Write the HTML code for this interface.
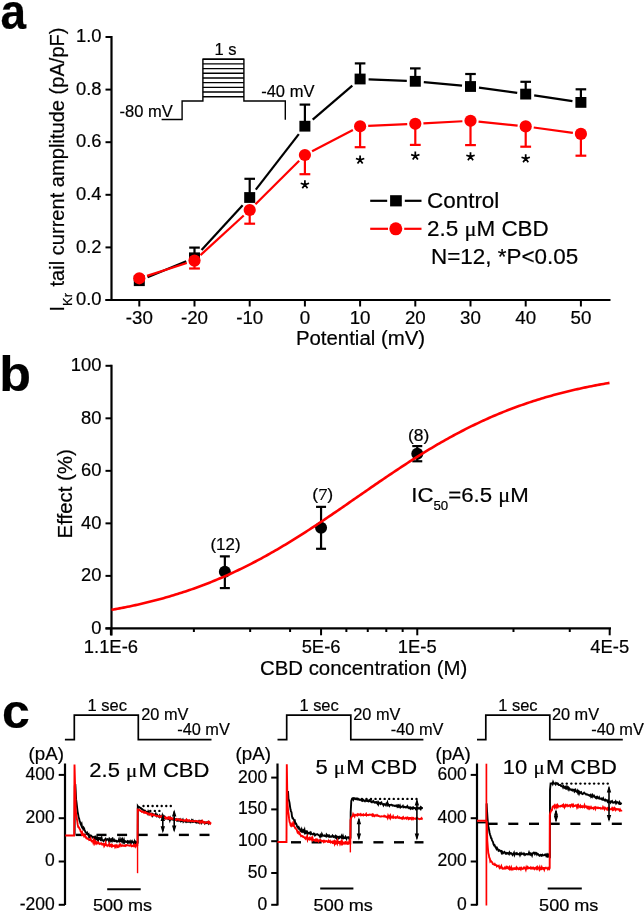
<!DOCTYPE html>
<html><head><meta charset="utf-8"><style>
html,body{margin:0;padding:0;background:#fff;width:644px;height:914px;overflow:hidden}
svg{display:block;will-change:transform}
text{font-family:"Liberation Sans",sans-serif;stroke:#000;stroke-width:0.2px}
</style></head><body>
<svg width="644" height="914" viewBox="0 0 644 914" style='font-family:"Liberation Sans",sans-serif'>
<rect width="644" height="914" fill="#fff"/>
<text x="0" y="0" transform="translate(0.60,29.10) scale(0.92,1)" font-size="50" text-anchor="start" font-weight="bold" fill="#000" >a</text>
<line x1="111.50" y1="36.00" x2="111.50" y2="301.00" stroke="#000" stroke-width="2.2" />
<line x1="105.50" y1="300.00" x2="610.50" y2="300.00" stroke="#000" stroke-width="2.2" />
<line x1="105.50" y1="300.00" x2="111.50" y2="300.00" stroke="#000" stroke-width="2" />
<text x="0" y="0" transform="translate(101.50,305.20) scale(1.02,1)" font-size="18" text-anchor="end" font-weight="normal" fill="#000" >0.0</text>
<line x1="105.50" y1="247.40" x2="111.50" y2="247.40" stroke="#000" stroke-width="2" />
<text x="0" y="0" transform="translate(101.50,252.60) scale(1.02,1)" font-size="18" text-anchor="end" font-weight="normal" fill="#000" >0.2</text>
<line x1="105.50" y1="194.80" x2="111.50" y2="194.80" stroke="#000" stroke-width="2" />
<text x="0" y="0" transform="translate(101.50,200.00) scale(1.02,1)" font-size="18" text-anchor="end" font-weight="normal" fill="#000" >0.4</text>
<line x1="105.50" y1="142.20" x2="111.50" y2="142.20" stroke="#000" stroke-width="2" />
<text x="0" y="0" transform="translate(101.50,147.40) scale(1.02,1)" font-size="18" text-anchor="end" font-weight="normal" fill="#000" >0.6</text>
<line x1="105.50" y1="89.60" x2="111.50" y2="89.60" stroke="#000" stroke-width="2" />
<text x="0" y="0" transform="translate(101.50,94.80) scale(1.02,1)" font-size="18" text-anchor="end" font-weight="normal" fill="#000" >0.8</text>
<line x1="105.50" y1="37.00" x2="111.50" y2="37.00" stroke="#000" stroke-width="2" />
<text x="0" y="0" transform="translate(101.50,42.20) scale(1.02,1)" font-size="18" text-anchor="end" font-weight="normal" fill="#000" >1.0</text>
<line x1="139.30" y1="300.00" x2="139.30" y2="306.50" stroke="#000" stroke-width="2" />
<text x="0" y="0" transform="translate(139.30,324.20) scale(1.04,1)" font-size="18" text-anchor="middle" font-weight="normal" fill="#000" >-30</text>
<line x1="194.50" y1="300.00" x2="194.50" y2="306.50" stroke="#000" stroke-width="2" />
<text x="0" y="0" transform="translate(194.50,324.20) scale(1.04,1)" font-size="18" text-anchor="middle" font-weight="normal" fill="#000" >-20</text>
<line x1="249.70" y1="300.00" x2="249.70" y2="306.50" stroke="#000" stroke-width="2" />
<text x="0" y="0" transform="translate(249.70,324.20) scale(1.04,1)" font-size="18" text-anchor="middle" font-weight="normal" fill="#000" >-10</text>
<line x1="304.90" y1="300.00" x2="304.90" y2="306.50" stroke="#000" stroke-width="2" />
<text x="0" y="0" transform="translate(304.90,324.20) scale(1.04,1)" font-size="18" text-anchor="middle" font-weight="normal" fill="#000" >0</text>
<line x1="360.10" y1="300.00" x2="360.10" y2="306.50" stroke="#000" stroke-width="2" />
<text x="0" y="0" transform="translate(360.10,324.20) scale(1.04,1)" font-size="18" text-anchor="middle" font-weight="normal" fill="#000" >10</text>
<line x1="415.30" y1="300.00" x2="415.30" y2="306.50" stroke="#000" stroke-width="2" />
<text x="0" y="0" transform="translate(415.30,324.20) scale(1.04,1)" font-size="18" text-anchor="middle" font-weight="normal" fill="#000" >20</text>
<line x1="470.50" y1="300.00" x2="470.50" y2="306.50" stroke="#000" stroke-width="2" />
<text x="0" y="0" transform="translate(470.50,324.20) scale(1.04,1)" font-size="18" text-anchor="middle" font-weight="normal" fill="#000" >30</text>
<line x1="525.70" y1="300.00" x2="525.70" y2="306.50" stroke="#000" stroke-width="2" />
<text x="0" y="0" transform="translate(525.70,324.20) scale(1.04,1)" font-size="18" text-anchor="middle" font-weight="normal" fill="#000" >40</text>
<line x1="580.90" y1="300.00" x2="580.90" y2="306.50" stroke="#000" stroke-width="2" />
<text x="0" y="0" transform="translate(580.90,324.20) scale(1.04,1)" font-size="18" text-anchor="middle" font-weight="normal" fill="#000" >50</text>
<text x="0" y="0" transform="translate(360.50,344.70) scale(1.02,1)" font-size="20" text-anchor="middle" font-weight="normal" fill="#000" >Potential (mV)</text>
<g transform="translate(63.7,309.7) rotate(-90)"><text x="-1.8" y="0" font-size="20.1" fill="#000">I<tspan font-size="13" dy="8.2">Kr</tspan><tspan dy="-8.2" dx="0.8"> tail current amplitude (pA/pF)</tspan></text></g>
<polyline points="161.60,119.50 182.10,119.50 182.10,101.00 202.90,101.00 202.90,59.20 243.90,59.20 243.90,101.00 285.30,101.00 285.30,119.70" fill="none" stroke="#000" stroke-width="1.4" stroke-linejoin="miter" />
<line x1="202.90" y1="59.20" x2="243.90" y2="59.20" stroke="#000" stroke-width="1.4" />
<line x1="202.90" y1="63.89" x2="243.90" y2="63.89" stroke="#000" stroke-width="1.4" />
<line x1="202.90" y1="68.58" x2="243.90" y2="68.58" stroke="#000" stroke-width="1.4" />
<line x1="202.90" y1="73.27" x2="243.90" y2="73.27" stroke="#000" stroke-width="1.4" />
<line x1="202.90" y1="77.96" x2="243.90" y2="77.96" stroke="#000" stroke-width="1.4" />
<line x1="202.90" y1="82.65" x2="243.90" y2="82.65" stroke="#000" stroke-width="1.4" />
<line x1="202.90" y1="87.34" x2="243.90" y2="87.34" stroke="#000" stroke-width="1.4" />
<line x1="202.90" y1="92.03" x2="243.90" y2="92.03" stroke="#000" stroke-width="1.4" />
<line x1="202.90" y1="96.72" x2="243.90" y2="96.72" stroke="#000" stroke-width="1.4" />
<text x="0" y="0" transform="translate(214.60,54.80) scale(1.0,1)" font-size="16.5" text-anchor="start" font-weight="normal" fill="#000" >1 s</text>
<text x="0" y="0" transform="translate(119.50,116.70) scale(1.0,1)" font-size="16.5" text-anchor="start" font-weight="normal" fill="#000" >-80 mV</text>
<text x="0" y="0" transform="translate(261.20,97.00) scale(1.0,1)" font-size="16.5" text-anchor="start" font-weight="normal" fill="#000" >-40 mV</text>
<line x1="147.57" y1="277.27" x2="186.23" y2="261.23" stroke="#000" stroke-width="2.2" />
<line x1="201.56" y1="250.09" x2="242.64" y2="205.21" stroke="#000" stroke-width="2.2" />
<line x1="255.79" y1="189.63" x2="298.81" y2="134.07" stroke="#000" stroke-width="2.2" />
<line x1="312.68" y1="119.55" x2="352.32" y2="85.65" stroke="#000" stroke-width="2.2" />
<line x1="368.60" y1="79.35" x2="406.80" y2="80.95" stroke="#000" stroke-width="2.2" />
<line x1="423.79" y1="82.10" x2="462.01" y2="85.70" stroke="#000" stroke-width="2.2" />
<line x1="478.97" y1="87.67" x2="517.23" y2="92.93" stroke="#000" stroke-width="2.2" />
<line x1="534.17" y1="95.37" x2="572.43" y2="101.13" stroke="#000" stroke-width="2.2" />
<line x1="194.50" y1="257.80" x2="194.50" y2="247.60" stroke="#000" stroke-width="2.2" />
<line x1="189.20" y1="247.60" x2="199.80" y2="247.60" stroke="#000" stroke-width="2.2" />
<line x1="249.70" y1="197.50" x2="249.70" y2="178.80" stroke="#000" stroke-width="2.2" />
<line x1="244.40" y1="178.80" x2="255.00" y2="178.80" stroke="#000" stroke-width="2.2" />
<line x1="304.90" y1="126.20" x2="304.90" y2="104.60" stroke="#000" stroke-width="2.2" />
<line x1="299.60" y1="104.60" x2="310.20" y2="104.60" stroke="#000" stroke-width="2.2" />
<line x1="360.10" y1="79.00" x2="360.10" y2="63.40" stroke="#000" stroke-width="2.2" />
<line x1="354.80" y1="63.40" x2="365.40" y2="63.40" stroke="#000" stroke-width="2.2" />
<line x1="415.30" y1="81.30" x2="415.30" y2="68.40" stroke="#000" stroke-width="2.2" />
<line x1="410.00" y1="68.40" x2="420.60" y2="68.40" stroke="#000" stroke-width="2.2" />
<line x1="470.50" y1="86.50" x2="470.50" y2="74.00" stroke="#000" stroke-width="2.2" />
<line x1="465.20" y1="74.00" x2="475.80" y2="74.00" stroke="#000" stroke-width="2.2" />
<line x1="525.70" y1="94.10" x2="525.70" y2="81.80" stroke="#000" stroke-width="2.2" />
<line x1="520.40" y1="81.80" x2="531.00" y2="81.80" stroke="#000" stroke-width="2.2" />
<line x1="580.90" y1="102.40" x2="580.90" y2="89.30" stroke="#000" stroke-width="2.2" />
<line x1="575.60" y1="89.30" x2="586.20" y2="89.30" stroke="#000" stroke-width="2.2" />
<rect x="133.80" y="275.30" width="11" height="10.8" fill="#000"/>
<rect x="189.00" y="252.40" width="11" height="10.8" fill="#000"/>
<rect x="244.20" y="192.10" width="11" height="10.8" fill="#000"/>
<rect x="299.40" y="120.80" width="11" height="10.8" fill="#000"/>
<rect x="354.60" y="73.60" width="11" height="10.8" fill="#000"/>
<rect x="409.80" y="75.90" width="11" height="10.8" fill="#000"/>
<rect x="465.00" y="81.10" width="11" height="10.8" fill="#000"/>
<rect x="520.20" y="88.70" width="11" height="10.8" fill="#000"/>
<rect x="575.40" y="97.00" width="11" height="10.8" fill="#000"/>
<line x1="147.01" y1="275.83" x2="186.79" y2="263.07" stroke="#f00" stroke-width="2.2" />
<line x1="200.47" y1="255.13" x2="243.73" y2="215.47" stroke="#f00" stroke-width="2.2" />
<line x1="255.44" y1="204.28" x2="299.16" y2="160.72" stroke="#f00" stroke-width="2.2" />
<line x1="312.09" y1="151.26" x2="352.91" y2="130.04" stroke="#f00" stroke-width="2.2" />
<line x1="368.19" y1="125.93" x2="407.21" y2="124.17" stroke="#f00" stroke-width="2.2" />
<line x1="423.39" y1="123.36" x2="462.41" y2="121.24" stroke="#f00" stroke-width="2.2" />
<line x1="478.56" y1="121.62" x2="517.64" y2="125.58" stroke="#f00" stroke-width="2.2" />
<line x1="533.73" y1="127.49" x2="572.87" y2="132.81" stroke="#f00" stroke-width="2.2" />
<line x1="194.50" y1="260.60" x2="194.50" y2="268.50" stroke="#f00" stroke-width="2.2" />
<line x1="189.10" y1="268.50" x2="199.90" y2="268.50" stroke="#f00" stroke-width="2.2" />
<line x1="249.70" y1="210.00" x2="249.70" y2="223.70" stroke="#f00" stroke-width="2.2" />
<line x1="244.30" y1="223.70" x2="255.10" y2="223.70" stroke="#f00" stroke-width="2.2" />
<line x1="304.90" y1="155.00" x2="304.90" y2="174.20" stroke="#f00" stroke-width="2.2" />
<line x1="299.50" y1="174.20" x2="310.30" y2="174.20" stroke="#f00" stroke-width="2.2" />
<line x1="360.10" y1="126.30" x2="360.10" y2="147.20" stroke="#f00" stroke-width="2.2" />
<line x1="354.70" y1="147.20" x2="365.50" y2="147.20" stroke="#f00" stroke-width="2.2" />
<line x1="415.30" y1="123.80" x2="415.30" y2="144.90" stroke="#f00" stroke-width="2.2" />
<line x1="409.90" y1="144.90" x2="420.70" y2="144.90" stroke="#f00" stroke-width="2.2" />
<line x1="470.50" y1="120.80" x2="470.50" y2="145.10" stroke="#f00" stroke-width="2.2" />
<line x1="465.10" y1="145.10" x2="475.90" y2="145.10" stroke="#f00" stroke-width="2.2" />
<line x1="525.70" y1="126.40" x2="525.70" y2="146.70" stroke="#f00" stroke-width="2.2" />
<line x1="520.30" y1="146.70" x2="531.10" y2="146.70" stroke="#f00" stroke-width="2.2" />
<line x1="580.90" y1="133.90" x2="580.90" y2="155.70" stroke="#f00" stroke-width="2.2" />
<line x1="575.50" y1="155.70" x2="586.30" y2="155.70" stroke="#f00" stroke-width="2.2" />
<circle cx="139.30" cy="278.30" r="6.1" fill="#f00"/>
<circle cx="194.50" cy="260.60" r="6.1" fill="#f00"/>
<circle cx="249.70" cy="210.00" r="6.1" fill="#f00"/>
<circle cx="304.90" cy="155.00" r="6.1" fill="#f00"/>
<circle cx="360.10" cy="126.30" r="6.1" fill="#f00"/>
<circle cx="415.30" cy="123.80" r="6.1" fill="#f00"/>
<circle cx="470.50" cy="120.80" r="6.1" fill="#f00"/>
<circle cx="525.70" cy="126.40" r="6.1" fill="#f00"/>
<circle cx="580.90" cy="133.90" r="6.1" fill="#f00"/>
<path d="M304.90,184.60 L304.90,180.20 M304.90,184.60 L309.08,183.24 M304.90,184.60 L307.49,188.16 M304.90,184.60 L302.31,188.16 M304.90,184.60 L300.72,183.24 " stroke="#000" stroke-width="1.75" stroke-linecap="butt" fill="none"/>
<path d="M360.10,159.90 L360.10,155.50 M360.10,159.90 L364.28,158.54 M360.10,159.90 L362.69,163.46 M360.10,159.90 L357.51,163.46 M360.10,159.90 L355.92,158.54 " stroke="#000" stroke-width="1.75" stroke-linecap="butt" fill="none"/>
<path d="M415.30,156.00 L415.30,151.60 M415.30,156.00 L419.48,154.64 M415.30,156.00 L417.89,159.56 M415.30,156.00 L412.71,159.56 M415.30,156.00 L411.12,154.64 " stroke="#000" stroke-width="1.75" stroke-linecap="butt" fill="none"/>
<path d="M470.50,156.60 L470.50,152.20 M470.50,156.60 L474.68,155.24 M470.50,156.60 L473.09,160.16 M470.50,156.60 L467.91,160.16 M470.50,156.60 L466.32,155.24 " stroke="#000" stroke-width="1.75" stroke-linecap="butt" fill="none"/>
<path d="M525.70,158.60 L525.70,154.20 M525.70,158.60 L529.88,157.24 M525.70,158.60 L528.29,162.16 M525.70,158.60 L523.11,162.16 M525.70,158.60 L521.52,157.24 " stroke="#000" stroke-width="1.75" stroke-linecap="butt" fill="none"/>
<line x1="370.20" y1="200.80" x2="387.20" y2="200.80" stroke="#000" stroke-width="2.2" />
<line x1="404.80" y1="200.80" x2="421.50" y2="200.80" stroke="#000" stroke-width="2.2" />
<rect x="390.1" y="195.2" width="11.7" height="11.2" fill="#000"/>
<text x="0" y="0" transform="translate(427.00,208.20) scale(1.02,1)" font-size="22" text-anchor="start" font-weight="normal" fill="#000" >Control</text>
<line x1="370.20" y1="228.80" x2="388.00" y2="228.80" stroke="#f00" stroke-width="2.2" />
<line x1="404.20" y1="228.80" x2="421.50" y2="228.80" stroke="#f00" stroke-width="2.2" />
<circle cx="395.8" cy="228.8" r="6.5" fill="#f00"/>
<text x="0" y="0" transform="translate(427.00,236.20) scale(1.02,1)" font-size="22" text-anchor="start" font-weight="normal" fill="#000" >2.5 <tspan font-family="Liberation Serif">&#956;</tspan>M CBD</text>
<text x="0" y="0" transform="translate(431.00,264.00) scale(1.02,1)" font-size="22" text-anchor="start" font-weight="normal" fill="#000" >N=12, *P&lt;0.05</text>
<text x="0" y="0" transform="translate(-0.80,391.30) scale(1.03,1)" font-size="50.5" text-anchor="start" font-weight="bold" fill="#000" >b</text>
<line x1="111.50" y1="364.80" x2="111.50" y2="635.50" stroke="#000" stroke-width="2.2" />
<line x1="105.50" y1="628.40" x2="611.00" y2="628.40" stroke="#000" stroke-width="2.2" />
<line x1="105.50" y1="628.40" x2="111.50" y2="628.40" stroke="#000" stroke-width="2" />
<text x="0" y="0" transform="translate(101.50,633.60) scale(1.02,1)" font-size="18" text-anchor="end" font-weight="normal" fill="#000" >0</text>
<line x1="105.50" y1="575.88" x2="111.50" y2="575.88" stroke="#000" stroke-width="2" />
<text x="0" y="0" transform="translate(101.50,581.08) scale(1.02,1)" font-size="18" text-anchor="end" font-weight="normal" fill="#000" >20</text>
<line x1="105.50" y1="523.36" x2="111.50" y2="523.36" stroke="#000" stroke-width="2" />
<text x="0" y="0" transform="translate(101.50,528.56) scale(1.02,1)" font-size="18" text-anchor="end" font-weight="normal" fill="#000" >40</text>
<line x1="105.50" y1="470.84" x2="111.50" y2="470.84" stroke="#000" stroke-width="2" />
<text x="0" y="0" transform="translate(101.50,476.04) scale(1.02,1)" font-size="18" text-anchor="end" font-weight="normal" fill="#000" >60</text>
<line x1="105.50" y1="418.32" x2="111.50" y2="418.32" stroke="#000" stroke-width="2" />
<text x="0" y="0" transform="translate(101.50,423.52) scale(1.02,1)" font-size="18" text-anchor="end" font-weight="normal" fill="#000" >80</text>
<line x1="105.50" y1="365.80" x2="111.50" y2="365.80" stroke="#000" stroke-width="2" />
<text x="0" y="0" transform="translate(101.50,371.00) scale(1.02,1)" font-size="18" text-anchor="end" font-weight="normal" fill="#000" >100</text>
<line x1="110.90" y1="628.40" x2="110.90" y2="635.30" stroke="#000" stroke-width="2" />
<text x="0" y="0" transform="translate(110.90,652.80) scale(1.0,1)" font-size="18.4" text-anchor="middle" font-weight="normal" fill="#000" >1.1E-6</text>
<line x1="321.06" y1="628.40" x2="321.06" y2="635.30" stroke="#000" stroke-width="2" />
<text x="0" y="0" transform="translate(321.06,652.80) scale(1.0,1)" font-size="18.4" text-anchor="middle" font-weight="normal" fill="#000" >5E-6</text>
<line x1="417.27" y1="628.40" x2="417.27" y2="635.30" stroke="#000" stroke-width="2" />
<text x="0" y="0" transform="translate(417.27,652.80) scale(1.0,1)" font-size="18.4" text-anchor="middle" font-weight="normal" fill="#000" >1E-5</text>
<line x1="609.69" y1="628.40" x2="609.69" y2="635.30" stroke="#000" stroke-width="2" />
<text x="0" y="0" transform="translate(609.69,652.80) scale(1.0,1)" font-size="18.4" text-anchor="middle" font-weight="normal" fill="#000" >4E-5</text>
<line x1="193.88" y1="628.40" x2="193.88" y2="632.00" stroke="#000" stroke-width="2" />
<line x1="250.16" y1="628.40" x2="250.16" y2="632.00" stroke="#000" stroke-width="2" />
<line x1="290.09" y1="628.40" x2="290.09" y2="632.00" stroke="#000" stroke-width="2" />
<line x1="346.37" y1="628.40" x2="346.37" y2="632.00" stroke="#000" stroke-width="2" />
<line x1="367.76" y1="628.40" x2="367.76" y2="632.00" stroke="#000" stroke-width="2" />
<line x1="386.30" y1="628.40" x2="386.30" y2="632.00" stroke="#000" stroke-width="2" />
<line x1="402.65" y1="628.40" x2="402.65" y2="632.00" stroke="#000" stroke-width="2" />
<line x1="513.48" y1="628.40" x2="513.48" y2="632.00" stroke="#000" stroke-width="2" />
<line x1="569.76" y1="628.40" x2="569.76" y2="632.00" stroke="#000" stroke-width="2" />
<text x="0" y="0" transform="translate(363.60,675.00) scale(1.02,1)" font-size="20" text-anchor="middle" font-weight="normal" fill="#000" >CBD concentration (M)</text>
<g transform="translate(72.0,536.8) rotate(-90)"><text x="-1.6" y="0" font-size="20" fill="#000" transform="scale(1.02,1)">Effect (%)</text></g>
<line x1="224.85" y1="556.37" x2="224.85" y2="588.08" stroke="#000" stroke-width="2.2" />
<line x1="219.85" y1="556.37" x2="229.85" y2="556.37" stroke="#000" stroke-width="2.2" />
<line x1="219.85" y1="588.08" x2="229.85" y2="588.08" stroke="#000" stroke-width="2.2" />
<circle cx="224.85" cy="571.83" r="6" fill="#000"/>
<line x1="321.06" y1="506.86" x2="321.06" y2="548.78" stroke="#000" stroke-width="2.2" />
<line x1="316.06" y1="506.86" x2="326.06" y2="506.86" stroke="#000" stroke-width="2.2" />
<line x1="316.06" y1="548.78" x2="326.06" y2="548.78" stroke="#000" stroke-width="2.2" />
<circle cx="321.06" cy="527.82" r="6" fill="#000"/>
<line x1="417.27" y1="446.07" x2="417.27" y2="461.27" stroke="#000" stroke-width="2.2" />
<line x1="412.27" y1="446.07" x2="422.27" y2="446.07" stroke="#000" stroke-width="2.2" />
<line x1="412.27" y1="461.27" x2="422.27" y2="461.27" stroke="#000" stroke-width="2.2" />
<circle cx="417.27" cy="453.67" r="6" fill="#000"/>
<text x="0" y="0" transform="translate(225.50,549.60) scale(1.04,1)" font-size="16.3" text-anchor="middle" font-weight="normal" fill="#000" >(12)</text>
<text x="0" y="0" transform="translate(418.70,440.70) scale(1.07,1)" font-size="16.3" text-anchor="middle" font-weight="normal" fill="#000" >(8)</text>
<text x="0" y="0" transform="translate(322.75,499.90) scale(1.08,1)" font-size="16.4" text-anchor="middle" font-weight="normal" fill="#000" >(<tspan font-family="Liberation Serif" font-size="17">7</tspan>)</text>
<polyline points="111.50,609.87 113.50,609.51 115.50,609.15 117.50,608.77 119.50,608.40 121.50,608.01 123.50,607.62 125.50,607.22 127.50,606.81 129.50,606.40 131.50,605.97 133.50,605.54 135.50,605.11 137.50,604.66 139.50,604.21 141.50,603.75 143.50,603.28 145.50,602.81 147.50,602.32 149.50,601.83 151.50,601.33 153.50,600.82 155.50,600.30 157.50,599.77 159.50,599.23 161.50,598.69 163.50,598.13 165.50,597.57 167.50,597.00 169.50,596.42 171.50,595.82 173.50,595.22 175.50,594.61 177.50,593.99 179.50,593.36 181.50,592.72 183.50,592.07 185.50,591.41 187.50,590.74 189.50,590.06 191.50,589.37 193.50,588.67 195.50,587.96 197.50,587.23 199.50,586.50 201.50,585.76 203.50,585.00 205.50,584.24 207.50,583.46 209.50,582.67 211.50,581.88 213.50,581.07 215.50,580.25 217.50,579.42 219.50,578.57 221.50,577.72 223.50,576.85 225.50,575.98 227.50,575.09 229.50,574.19 231.50,573.28 233.50,572.36 235.50,571.43 237.50,570.48 239.50,569.53 241.50,568.56 243.50,567.58 245.50,566.60 247.50,565.59 249.50,564.58 251.50,563.56 253.50,562.53 255.50,561.48 257.50,560.43 259.50,559.36 261.50,558.28 263.50,557.19 265.50,556.10 267.50,554.99 269.50,553.87 271.50,552.74 273.50,551.60 275.50,550.45 277.50,549.29 279.50,548.11 281.50,546.93 283.50,545.74 285.50,544.55 287.50,543.34 289.50,542.12 291.50,540.89 293.50,539.66 295.50,538.41 297.50,537.16 299.50,535.90 301.50,534.63 303.50,533.36 305.50,532.07 307.50,530.78 309.50,529.48 311.50,528.18 313.50,526.87 315.50,525.55 317.50,524.23 319.50,522.90 321.50,521.56 323.50,520.22 325.50,518.87 327.50,517.52 329.50,516.17 331.50,514.81 333.50,513.44 335.50,512.08 337.50,510.71 339.50,509.33 341.50,507.96 343.50,506.58 345.50,505.20 347.50,503.82 349.50,502.43 351.50,501.05 353.50,499.66 355.50,498.27 357.50,496.88 359.50,495.50 361.50,494.11 363.50,492.72 365.50,491.34 367.50,489.95 369.50,488.57 371.50,487.19 373.50,485.81 375.50,484.44 377.50,483.06 379.50,481.69 381.50,480.33 383.50,478.96 385.50,477.60 387.50,476.25 389.50,474.90 391.50,473.55 393.50,472.21 395.50,470.88 397.50,469.55 399.50,468.22 401.50,466.90 403.50,465.59 405.50,464.29 407.50,462.99 409.50,461.70 411.50,460.42 413.50,459.14 415.50,457.87 417.50,456.61 419.50,455.36 421.50,454.12 423.50,452.88 425.50,451.65 427.50,450.44 429.50,449.23 431.50,448.03 433.50,446.84 435.50,445.66 437.50,444.49 439.50,443.33 441.50,442.18 443.50,441.04 445.50,439.91 447.50,438.79 449.50,437.68 451.50,436.58 453.50,435.49 455.50,434.42 457.50,433.35 459.50,432.29 461.50,431.25 463.50,430.22 465.50,429.19 467.50,428.18 469.50,427.18 471.50,426.19 473.50,425.22 475.50,424.25 477.50,423.30 479.50,422.35 481.50,421.42 483.50,420.50 485.50,419.59 487.50,418.69 489.50,417.80 491.50,416.93 493.50,416.06 495.50,415.21 497.50,414.37 499.50,413.53 501.50,412.71 503.50,411.91 505.50,411.11 507.50,410.32 509.50,409.55 511.50,408.78 513.50,408.03 515.50,407.28 517.50,406.55 519.50,405.83 521.50,405.12 523.50,404.42 525.50,403.72 527.50,403.04 529.50,402.37 531.50,401.71 533.50,401.06 535.50,400.42 537.50,399.79 539.50,399.17 541.50,398.56 543.50,397.96 545.50,397.37 547.50,396.79 549.50,396.22 551.50,395.65 553.50,395.10 555.50,394.55 557.50,394.02 559.50,393.49 561.50,392.97 563.50,392.46 565.50,391.96 567.50,391.47 569.50,390.98 571.50,390.51 573.50,390.04 575.50,389.58 577.50,389.13 579.50,388.68 581.50,388.25 583.50,387.82 585.50,387.39 587.50,386.98 589.50,386.57 591.50,386.17 593.50,385.78 595.50,385.40 597.50,385.02 599.50,384.64 601.50,384.28 603.50,383.92 605.50,383.57 607.50,383.22 609.50,382.88" fill="none" stroke="#f00" stroke-width="2.6" stroke-linejoin="miter" stroke-linejoin="round"/>
<text x="0" y="0" transform="translate(411.20,502.40) scale(1.06,1)" font-size="21" text-anchor="start" font-weight="normal" fill="#000" >IC<tspan font-size="12.5" dy="7.5">50</tspan><tspan dy="-7.5">=6.5 <tspan font-family="Liberation Serif">&#956;</tspan>M</tspan></text>
<text x="0" y="0" transform="translate(2.00,728.30) scale(1.03,1)" font-size="48.5" text-anchor="start" font-weight="bold" fill="#000" >c</text>
<polyline points="64.90,739.60 74.30,739.60 74.30,715.20 138.30,715.20 138.30,739.60 211.50,739.60" fill="none" stroke="#000" stroke-width="1.7" stroke-linejoin="miter" />
<text x="0" y="0" transform="translate(87.60,710.60) scale(1.03,1)" font-size="16" text-anchor="start" font-weight="normal" fill="#000" >1 sec</text>
<text x="0" y="0" transform="translate(141.30,720.30) scale(1.02,1)" font-size="16" text-anchor="start" font-weight="normal" fill="#000" >20 mV</text>
<text x="0" y="0" transform="translate(177.20,734.60) scale(1.02,1)" font-size="16" text-anchor="start" font-weight="normal" fill="#000" >-40 mV</text>
<text x="0" y="0" transform="translate(28.60,759.70) scale(1.07,1)" font-size="17.5" text-anchor="start" font-weight="normal" fill="#000" >(pA)</text>
<line x1="65.00" y1="763.50" x2="65.00" y2="905.00" stroke="#000" stroke-width="2.2" />
<line x1="58.70" y1="774.90" x2="65.00" y2="774.90" stroke="#000" stroke-width="2" />
<text x="0" y="0" transform="translate(54.70,779.80) scale(1.0,1)" font-size="17.5" text-anchor="end" font-weight="normal" fill="#000" >400</text>
<line x1="58.70" y1="818.20" x2="65.00" y2="818.20" stroke="#000" stroke-width="2" />
<text x="0" y="0" transform="translate(54.70,823.10) scale(1.0,1)" font-size="17.5" text-anchor="end" font-weight="normal" fill="#000" >200</text>
<line x1="58.70" y1="861.50" x2="65.00" y2="861.50" stroke="#000" stroke-width="2" />
<text x="0" y="0" transform="translate(54.70,866.40) scale(1.0,1)" font-size="17.5" text-anchor="end" font-weight="normal" fill="#000" >0</text>
<line x1="58.70" y1="904.80" x2="65.00" y2="904.80" stroke="#000" stroke-width="2" />
<text x="0" y="0" transform="translate(54.70,909.70) scale(1.0,1)" font-size="17.5" text-anchor="end" font-weight="normal" fill="#000" >-200</text>
<text x="0" y="0" transform="translate(89.30,776.60) scale(1.1,1)" font-size="20" text-anchor="start" font-weight="normal" fill="#000" >2.5 <tspan font-family="Liberation Serif" font-size="19">&#956;</tspan><tspan dx="1.2">M CBD</tspan></text>
<line x1="107.20" y1="889.30" x2="140.70" y2="889.30" stroke="#000" stroke-width="2" />
<text x="0" y="0" transform="translate(92.90,910.80) scale(1.13,1)" font-size="16" text-anchor="start" font-weight="normal" fill="#000" >500 ms</text>
<line x1="75.90" y1="834.90" x2="85.90" y2="834.90" stroke="#000" stroke-width="2.4" />
<line x1="96.50" y1="834.90" x2="106.50" y2="834.90" stroke="#000" stroke-width="2.4" />
<line x1="117.10" y1="834.90" x2="127.10" y2="834.90" stroke="#000" stroke-width="2.4" />
<line x1="137.70" y1="834.90" x2="147.70" y2="834.90" stroke="#000" stroke-width="2.4" />
<line x1="158.30" y1="834.90" x2="168.30" y2="834.90" stroke="#000" stroke-width="2.4" />
<line x1="178.90" y1="834.90" x2="188.90" y2="834.90" stroke="#000" stroke-width="2.4" />
<line x1="199.50" y1="834.90" x2="209.50" y2="834.90" stroke="#000" stroke-width="2.4" />
<polyline points="74.60,835.50 74.80,786.00 75.40,785.60 75.60,789.48 76.10,799.42 76.60,803.21 77.10,807.65 77.60,811.57 78.10,814.15 78.60,817.33 79.10,818.50 79.60,820.97 80.10,822.05 80.60,824.05 81.10,825.11 81.60,824.12 82.10,827.51 82.60,828.03 83.10,828.89 83.60,827.57 84.10,828.39 84.60,830.11 85.10,831.03 85.60,832.31 86.10,832.45 86.60,833.52 87.10,832.86 87.60,834.31 88.10,834.89 88.60,834.29 89.10,836.92 89.60,836.01 90.10,836.91 90.60,835.34 91.10,835.48 91.60,836.13 92.10,836.62 92.60,837.61 93.10,837.48 93.60,837.04 94.10,836.78 94.60,837.47 95.10,839.46 95.60,837.69 96.10,838.99 96.60,839.27 97.10,837.41 97.60,839.00 98.10,840.32 98.60,837.05 99.10,838.80 99.60,839.07 100.10,838.41 100.60,839.78 101.10,839.28 101.60,837.93 102.10,840.28 102.60,840.17 103.10,840.51 103.60,841.06 104.10,840.03 104.60,839.84 105.50,838.85 106.00,840.34 106.50,839.48 107.00,839.65 107.50,839.10 108.00,839.37 108.50,839.73 109.00,841.12 109.50,838.66 110.00,839.11 110.50,840.41 111.00,841.34 111.50,840.72 112.00,838.89 112.50,838.45 113.00,840.64 113.50,839.84 114.00,839.58 114.50,841.18 115.00,841.30 115.50,840.62 116.00,840.71 116.50,840.88 117.00,841.78 117.50,841.07 118.00,841.02 118.50,841.07 119.00,839.51 119.50,841.68 120.00,841.46 120.50,841.17 121.00,839.31 121.50,840.37 122.00,841.54 122.50,839.62 123.00,840.90 123.50,841.86 124.00,840.18 124.50,842.43 125.00,841.70 125.50,841.23 126.00,841.65 126.50,841.96 127.00,841.62 127.50,842.45 128.00,841.16 128.50,841.41 129.00,842.56 129.50,841.86 130.00,841.24 130.50,842.68 131.00,843.13 131.50,841.76 132.00,841.12 132.50,842.11 133.00,842.17 133.50,842.12 134.00,843.45 134.50,841.69 135.00,843.47 135.50,841.64 136.00,842.10 136.50,843.27 137.00,843.76 137.70,843.00 137.80,806.10 138.30,806.74 138.80,806.83 139.30,807.08 139.80,807.44 140.30,807.99 140.80,807.96 141.30,808.53 141.80,809.03 142.30,809.09 142.80,809.81 143.30,810.06 143.80,811.12 144.30,810.63 144.80,810.59 145.30,810.97 145.80,811.49 146.30,812.30 146.80,812.02 147.30,812.72 147.80,813.64 148.30,811.60 148.80,812.48 149.30,813.32 149.80,813.55 150.30,813.63 150.80,813.45 151.30,814.15 151.80,814.12 152.30,813.88 152.80,815.51 153.30,814.63 153.80,814.34 154.30,814.72 154.80,814.81 155.30,815.05 155.80,813.88 156.30,815.16 156.80,816.06 157.30,815.13 157.80,815.84 158.30,816.50 158.80,816.61 159.30,817.09 159.80,815.65 160.30,816.43 160.80,816.55 161.30,817.14 161.80,817.48 162.30,815.70 162.80,817.69 163.30,816.53 163.80,817.71 164.30,816.73 164.80,817.67 165.30,818.29 165.80,817.72 166.30,818.00 166.80,818.41 167.30,818.19 167.80,818.18 168.30,819.10 168.80,818.97 169.30,818.41 169.80,820.03 170.30,818.19 170.80,819.33 171.30,818.85 171.80,819.16 172.30,819.55 172.80,819.38 173.30,819.66 173.80,818.65 174.30,818.74 174.80,819.87 175.30,819.15 175.80,819.19 176.30,819.05 176.80,820.49 177.30,820.30 177.80,820.73 178.30,819.60 178.80,820.14 179.30,819.65 179.80,820.67 180.30,821.16 180.80,819.99 181.30,821.29 181.80,821.07 182.30,820.56 182.80,819.74 183.30,821.50 183.80,820.82 184.30,820.64 184.80,821.21 185.30,821.24 185.80,821.81 186.30,820.58 186.80,821.69 187.30,821.89 187.80,821.90 188.30,821.11 188.80,820.86 189.30,821.77 189.80,821.35 190.30,821.38 190.80,822.06 191.30,821.24 191.80,820.25 192.30,821.24 192.80,820.53 193.30,821.89 193.80,821.67 194.30,821.24 194.80,821.57 195.30,822.01 195.80,821.67 196.30,822.32 196.80,821.65 197.30,822.24 197.80,822.51 198.30,822.61 198.80,821.52 199.30,822.34 199.80,821.01 200.30,821.45 200.80,821.06 201.30,822.62 201.80,821.51 202.30,822.17 202.80,822.13 203.30,822.25 203.80,822.02 204.30,822.48 204.80,823.30 205.30,822.47 205.80,822.76 206.30,823.04 206.80,822.49 207.30,822.00 207.80,822.40 208.30,823.26 208.80,821.95 209.30,822.52 209.80,823.37 210.30,823.30" fill="none" stroke="#000" stroke-width="1.9" stroke-linejoin="miter" />
<polyline points="65.30,835.50 74.20,835.50 74.50,764.60 75.20,790.00 75.70,809.23 76.20,815.24 76.70,817.73 77.20,820.80 77.70,824.66 78.20,827.06 78.70,827.18 79.20,827.99 79.70,829.09 80.20,829.64 80.70,831.50 81.20,831.88 81.70,833.82 82.20,832.68 82.70,834.80 83.20,834.72 83.70,834.43 84.20,836.53 84.70,836.43 85.20,835.76 85.70,837.02 86.20,837.97 86.70,837.77 87.20,838.76 87.70,838.99 88.20,839.18 88.70,839.23 89.20,840.08 89.70,839.92 90.20,840.04 90.70,838.77 91.20,840.80 91.70,841.30 92.20,840.58 92.70,840.72 93.20,842.42 93.70,840.41 94.20,841.91 94.70,843.25 95.20,841.40 95.70,842.54 96.20,843.42 96.70,842.38 97.20,842.95 97.70,843.32 98.20,842.40 98.70,843.06 99.20,843.45 99.70,843.94 100.20,843.58 100.70,843.65 101.20,843.32 101.70,843.83 102.20,844.66 102.70,844.26 103.20,843.76 103.70,843.85 104.20,846.03 104.70,845.19 105.20,844.96 105.70,843.10 106.20,845.11 106.70,845.10 107.20,845.90 107.70,845.22 108.20,845.00 108.70,845.43 109.20,844.02 109.70,845.89 110.20,845.54 110.70,845.00 111.20,846.29 111.70,846.66 112.20,844.81 112.70,845.33 113.20,845.98 113.70,845.99 114.20,845.72 114.70,845.41 115.20,847.24 115.70,846.57 116.20,845.21 116.70,845.09 117.20,846.90 117.70,846.45 118.20,846.92 118.70,846.30 119.20,845.26 119.70,845.92 120.20,844.44 120.70,845.27 121.20,845.66 121.70,845.99 122.20,845.21 122.70,845.55 123.20,845.88 123.70,845.81 124.20,845.94 124.70,845.66 125.20,845.32 125.70,845.96 126.20,845.50 126.70,844.95 127.20,845.05 127.70,845.40 128.20,845.37 128.70,845.57 129.20,845.51 129.70,845.66 130.20,845.51 130.70,844.87 131.20,845.92 131.70,846.34 132.20,846.00 132.70,845.67 133.20,846.09 133.70,845.28 134.20,844.76 134.70,845.97 135.20,845.41 135.70,846.44 136.20,845.35 136.70,844.42 137.20,845.38 137.50,846.00 137.70,809.80 138.40,810.43 138.90,809.90 139.40,809.75 139.90,810.24 140.40,810.95 140.90,811.11 141.40,811.16 141.90,811.86 142.40,811.73 142.90,811.61 143.40,812.03 143.90,812.63 144.40,812.53 144.90,812.73 145.40,812.06 145.90,812.61 146.40,813.14 146.90,812.91 147.40,813.63 147.90,813.58 148.40,813.84 148.90,813.53 149.40,814.77 149.90,814.38 150.40,813.94 150.90,814.20 151.40,815.33 151.90,814.30 152.40,814.92 152.90,815.10 153.40,814.85 153.90,814.52 154.40,815.19 154.90,815.40 155.40,815.85 155.90,815.84 156.40,815.68 156.90,816.15 157.40,816.16 157.90,816.16 158.40,816.24 158.90,816.26 159.40,816.76 159.90,816.20 160.40,816.46 160.90,816.81 161.40,816.32 161.90,816.83 162.40,816.30 162.90,816.92 163.40,817.52 163.90,817.61 164.40,817.46 164.90,817.49 165.40,817.11 165.90,818.50 166.40,818.07 166.90,818.40 167.40,817.71 167.90,818.08 168.40,817.52 168.90,818.66 169.40,818.82 169.90,817.78 170.40,818.61 170.90,818.98 171.40,818.12 171.90,818.19 172.40,818.59 172.90,818.83 173.40,818.58 173.90,819.22 174.40,819.37 174.90,819.59 175.40,819.68 175.90,820.07 176.40,819.99 176.90,819.07 177.40,819.46 177.90,819.30 178.40,819.36 178.90,819.82 179.40,819.92 179.90,820.18 180.40,819.41 180.90,819.61 181.40,820.16 181.90,820.16 182.40,820.18 182.90,820.34 183.40,820.13 183.90,820.78 184.40,820.70 184.90,820.58 185.40,820.38 185.90,820.61 186.40,819.62 186.90,820.35 187.40,820.79 187.90,820.20 188.40,820.92 188.90,820.93 189.40,820.35 189.90,820.84 190.40,820.84 190.90,821.18 191.40,821.28 191.90,821.05 192.40,820.76 192.90,821.07 193.40,821.14 193.90,821.49 194.40,821.34 194.90,820.97 195.40,820.75 195.90,821.17 196.40,821.06 196.90,820.94 197.40,821.38 197.90,821.27 198.40,821.55 198.90,821.76 199.40,821.43 199.90,822.56 200.40,821.55 200.90,822.16 201.40,821.81 201.90,822.25 202.40,820.89 202.90,821.59 203.40,822.03 203.90,822.21 204.40,822.95 204.90,822.18 205.40,822.61 205.90,822.45 206.40,822.56 206.90,822.43 207.40,822.20 207.90,822.51 208.40,821.92 208.90,822.86 209.40,822.03 209.90,822.57 210.40,823.35 210.90,822.41" fill="none" stroke="#f00" stroke-width="1.9" stroke-linejoin="miter" />
<line x1="137.55" y1="846.00" x2="137.55" y2="873.20" stroke="#f00" stroke-width="1.4" />
<circle cx="143.50" cy="806.00" r="1.2" fill="#000"/>
<circle cx="148.05" cy="806.00" r="1.2" fill="#000"/>
<circle cx="152.60" cy="806.00" r="1.2" fill="#000"/>
<circle cx="157.15" cy="806.00" r="1.2" fill="#000"/>
<circle cx="161.70" cy="806.00" r="1.2" fill="#000"/>
<circle cx="166.25" cy="806.00" r="1.2" fill="#000"/>
<circle cx="170.80" cy="806.00" r="1.2" fill="#000"/>
<circle cx="150.30" cy="810.90" r="1.2" fill="#000"/>
<circle cx="154.85" cy="810.90" r="1.2" fill="#000"/>
<circle cx="159.40" cy="810.90" r="1.2" fill="#000"/>
<line x1="162.80" y1="816.10" x2="162.80" y2="831.20" stroke="#000" stroke-width="1.6" />
<path d="M160.60,821.10 L162.80,814.10 L165.00,821.10 Z M160.60,826.20 L162.80,833.20 L165.00,826.20 Z" fill="#000"/>
<line x1="174.20" y1="811.40" x2="174.20" y2="830.50" stroke="#000" stroke-width="1.6" />
<path d="M172.00,816.40 L174.20,809.40 L176.40,816.40 Z M172.00,825.50 L174.20,832.50 L176.40,825.50 Z" fill="#000"/>
<polyline points="277.50,739.60 286.70,739.60 286.70,715.20 350.80,715.20 350.80,739.60 423.40,739.60" fill="none" stroke="#000" stroke-width="1.7" stroke-linejoin="miter" />
<text x="0" y="0" transform="translate(299.40,710.60) scale(1.03,1)" font-size="16" text-anchor="start" font-weight="normal" fill="#000" >1 sec</text>
<text x="0" y="0" transform="translate(353.30,720.30) scale(1.02,1)" font-size="16" text-anchor="start" font-weight="normal" fill="#000" >20 mV</text>
<text x="0" y="0" transform="translate(390.80,734.60) scale(1.02,1)" font-size="16" text-anchor="start" font-weight="normal" fill="#000" >-40 mV</text>
<text x="0" y="0" transform="translate(235.60,759.70) scale(1.07,1)" font-size="17.5" text-anchor="start" font-weight="normal" fill="#000" >(pA)</text>
<line x1="277.50" y1="763.50" x2="277.50" y2="905.50" stroke="#000" stroke-width="2.2" />
<line x1="271.20" y1="777.60" x2="277.50" y2="777.60" stroke="#000" stroke-width="2" />
<text x="0" y="0" transform="translate(267.20,782.50) scale(1.0,1)" font-size="17.5" text-anchor="end" font-weight="normal" fill="#000" >200</text>
<line x1="271.20" y1="809.40" x2="277.50" y2="809.40" stroke="#000" stroke-width="2" />
<text x="0" y="0" transform="translate(267.20,814.30) scale(1.0,1)" font-size="17.5" text-anchor="end" font-weight="normal" fill="#000" >150</text>
<line x1="271.20" y1="841.20" x2="277.50" y2="841.20" stroke="#000" stroke-width="2" />
<text x="0" y="0" transform="translate(267.20,846.10) scale(1.0,1)" font-size="17.5" text-anchor="end" font-weight="normal" fill="#000" >100</text>
<line x1="271.20" y1="873.00" x2="277.50" y2="873.00" stroke="#000" stroke-width="2" />
<text x="0" y="0" transform="translate(267.20,877.90) scale(1.0,1)" font-size="17.5" text-anchor="end" font-weight="normal" fill="#000" >50</text>
<line x1="271.20" y1="904.80" x2="277.50" y2="904.80" stroke="#000" stroke-width="2" />
<text x="0" y="0" transform="translate(267.20,909.70) scale(1.0,1)" font-size="17.5" text-anchor="end" font-weight="normal" fill="#000" >0</text>
<text x="0" y="0" transform="translate(315.40,773.80) scale(1.1,1)" font-size="20" text-anchor="start" font-weight="normal" fill="#000" >5 <tspan font-family="Liberation Serif" font-size="19">&#956;</tspan><tspan dx="1.2">M CBD</tspan></text>
<line x1="320.20" y1="888.40" x2="353.40" y2="888.40" stroke="#000" stroke-width="2" />
<text x="0" y="0" transform="translate(313.60,910.80) scale(1.13,1)" font-size="16" text-anchor="start" font-weight="normal" fill="#000" >500 ms</text>
<line x1="291.00" y1="842.30" x2="301.00" y2="842.30" stroke="#000" stroke-width="2.4" />
<line x1="311.60" y1="842.30" x2="321.60" y2="842.30" stroke="#000" stroke-width="2.4" />
<line x1="332.20" y1="842.30" x2="342.20" y2="842.30" stroke="#000" stroke-width="2.4" />
<line x1="352.80" y1="842.30" x2="362.80" y2="842.30" stroke="#000" stroke-width="2.4" />
<line x1="373.40" y1="842.30" x2="383.40" y2="842.30" stroke="#000" stroke-width="2.4" />
<line x1="394.00" y1="842.30" x2="404.00" y2="842.30" stroke="#000" stroke-width="2.4" />
<line x1="414.60" y1="842.30" x2="423.50" y2="842.30" stroke="#000" stroke-width="2.4" />
<polyline points="288.00,800.00 288.00,791.00 288.00,791.02 288.50,798.85 289.00,800.57 289.50,802.57 290.00,806.28 290.50,809.32 291.00,811.65 291.50,812.18 292.00,816.31 292.50,818.09 293.00,818.11 293.50,819.32 294.00,819.68 294.50,822.33 295.00,821.40 295.50,823.63 296.00,823.58 296.50,824.29 297.00,826.16 297.50,827.31 298.00,826.70 298.50,826.69 299.00,828.63 299.50,828.45 300.00,829.37 300.50,831.05 301.00,831.00 301.50,829.74 302.00,832.49 302.50,830.67 303.00,831.60 303.50,830.54 304.00,831.31 304.50,830.00 305.00,833.41 305.50,833.26 306.00,831.17 306.50,831.13 307.00,831.26 307.50,834.00 308.00,832.76 308.50,833.35 309.00,833.20 309.50,833.45 310.00,832.66 310.50,833.73 311.00,832.86 311.50,833.83 312.00,834.15 312.50,834.34 313.00,833.96 313.50,833.60 314.00,834.37 314.50,834.03 315.00,835.44 315.50,835.00 316.00,834.51 316.50,834.36 317.00,834.29 317.50,834.21 318.00,834.67 318.50,835.17 319.00,835.39 319.50,835.51 320.00,836.57 320.50,834.80 321.00,835.32 321.50,837.18 322.00,834.20 322.50,835.12 323.00,835.62 323.50,835.66 324.00,835.88 324.50,835.50 325.00,835.95 325.50,835.79 326.00,836.31 326.50,834.63 327.00,835.33 327.50,835.96 328.00,835.34 328.50,835.38 329.00,836.52 329.50,835.74 330.00,836.62 330.50,836.74 331.00,836.51 331.50,836.69 332.00,836.34 332.50,835.54 333.00,836.49 333.50,836.85 334.00,836.26 334.50,836.59 335.00,837.20 335.50,836.19 336.00,837.22 336.50,838.07 337.00,836.55 337.50,837.05 338.00,836.91 338.50,838.06 339.00,837.31 339.50,837.74 340.00,836.76 340.50,837.24 341.00,837.30 341.50,836.20 342.00,838.34 342.50,838.04 343.00,836.37 343.50,838.04 344.00,837.52 344.50,837.94 345.00,837.94 345.50,836.78 346.00,837.66 346.50,838.82 347.00,837.53 347.50,837.29 348.00,837.12 348.50,837.21 349.00,838.22 349.50,839.10 350.00,838.28 350.50,838.00 350.70,812.00 351.30,801.00 352.20,798.60 352.90,798.32 353.40,799.44 353.90,798.19 354.40,798.23 354.90,798.95 355.40,799.09 355.90,798.43 356.40,798.47 356.90,799.33 357.40,799.43 357.90,798.77 358.40,799.43 358.90,799.33 359.40,799.91 359.90,799.70 360.40,799.79 360.90,799.73 361.40,800.51 361.90,800.76 362.40,799.95 362.90,800.64 363.40,799.91 363.90,800.40 364.40,800.81 364.90,801.27 365.40,800.40 365.90,800.63 366.40,800.84 366.90,800.07 367.40,800.90 367.90,800.63 368.40,801.23 368.90,800.56 369.40,800.21 369.90,801.29 370.40,801.48 370.90,801.15 371.40,801.94 371.90,801.46 372.40,801.39 372.90,802.03 373.40,801.11 373.90,801.65 374.40,802.08 374.90,802.61 375.40,802.21 375.90,802.54 376.40,802.16 376.90,802.73 377.40,803.51 377.90,802.44 378.40,804.06 378.90,802.66 379.40,803.08 379.90,803.26 380.40,803.78 380.90,802.75 381.40,802.42 381.90,803.87 382.40,804.06 382.90,804.08 383.40,805.18 383.90,804.06 384.40,804.19 384.90,804.61 385.40,804.41 385.90,805.13 386.40,803.75 386.90,804.26 387.40,802.80 387.90,805.01 388.40,804.49 388.90,805.21 389.40,805.90 389.90,804.90 390.40,804.85 390.90,804.80 391.40,804.71 391.90,804.89 392.40,805.60 392.90,805.38 393.40,805.47 393.90,805.42 394.40,806.04 394.90,805.91 395.40,805.67 395.90,806.14 396.40,805.81 396.90,805.39 397.40,806.77 397.90,806.34 398.40,805.69 398.90,806.77 399.40,806.47 399.90,805.57 400.40,807.22 400.90,806.64 401.40,806.98 401.90,806.70 402.40,806.58 402.90,805.94 403.40,807.26 403.90,806.85 404.40,806.76 404.90,807.14 405.40,807.06 405.90,807.42 406.40,806.96 406.90,807.18 407.40,806.19 407.90,807.11 408.40,807.72 408.90,808.11 409.40,807.32 409.90,807.51 410.40,808.42 410.90,807.52 411.40,808.09 411.90,808.60 412.40,807.81 412.90,808.44 413.40,807.51 413.90,808.00 414.40,807.89 414.90,808.02 415.40,808.56 415.90,809.22 416.40,807.73 416.90,807.81 417.40,808.38 417.90,807.64 418.40,808.45 418.90,808.52 419.40,808.13 419.90,808.56 420.40,807.56 420.90,808.75 421.40,807.63 421.90,808.08 422.40,808.19 422.90,808.30" fill="none" stroke="#000" stroke-width="1.9" stroke-linejoin="miter" />
<polyline points="277.50,842.00 286.50,842.00 286.80,764.30 287.40,800.00 287.60,804.77 288.10,810.83 288.60,814.34 289.10,818.71 289.60,822.05 290.10,823.10 290.60,825.32 291.10,825.98 291.60,825.06 292.10,823.80 292.60,825.73 293.10,825.84 293.60,824.01 294.10,825.87 294.60,826.84 295.10,827.92 295.60,828.61 296.10,828.91 296.60,829.30 297.10,830.85 297.60,832.28 298.10,831.70 298.60,832.32 299.10,833.50 299.60,832.94 300.10,834.53 300.60,835.00 301.10,836.12 301.60,835.86 302.10,835.95 302.60,836.44 303.10,836.85 303.60,836.68 304.10,837.29 304.60,837.93 305.10,838.37 305.60,838.83 306.10,837.49 306.60,837.86 307.10,836.77 307.60,839.55 308.10,838.13 308.60,838.69 309.10,839.17 309.60,838.19 310.10,839.41 310.60,839.18 311.10,838.17 311.60,839.51 312.10,840.12 312.60,838.36 313.10,840.03 313.60,839.74 314.10,839.97 314.60,840.02 315.10,840.61 315.60,839.76 316.10,840.49 316.60,839.79 317.10,840.54 317.60,839.69 318.10,840.18 318.60,841.36 319.10,840.66 319.60,840.36 320.10,839.84 320.60,840.11 321.10,840.77 321.60,841.28 322.10,841.03 322.60,841.15 323.10,840.87 323.60,841.77 324.10,840.79 324.60,840.76 325.10,841.68 325.60,841.25 326.10,841.11 326.60,840.99 327.10,841.25 327.60,841.84 328.10,841.74 328.60,840.86 329.10,841.91 329.60,841.82 330.10,841.17 330.60,842.30 331.10,841.73 331.60,841.76 332.10,842.49 332.60,842.84 333.10,841.68 333.60,842.39 334.10,841.64 334.60,843.59 335.10,841.94 335.60,842.99 336.10,841.92 336.60,842.84 337.10,843.72 337.60,840.90 338.10,842.20 338.60,842.80 339.10,842.48 339.60,842.17 340.10,843.90 340.60,842.70 341.10,841.70 341.60,843.24 342.10,841.73 342.60,843.49 343.10,842.49 343.60,842.96 344.10,843.67 344.60,843.02 345.10,842.15 345.60,842.00 346.10,843.77 346.60,843.54 347.10,842.64 347.60,843.69 348.10,843.50 348.60,843.62 349.10,841.90 349.60,843.10 350.30,843.30 350.50,820.00 351.60,816.91 352.10,816.47 352.60,816.18 353.10,814.38 353.60,815.48 354.10,815.55 354.60,816.40 355.10,814.75 355.60,814.95 356.10,815.04 356.60,815.34 357.10,814.67 357.60,815.31 358.10,814.36 358.60,814.83 359.10,814.49 359.60,814.81 360.10,814.45 360.60,814.05 361.10,815.28 361.60,814.94 362.10,814.57 362.60,814.92 363.10,815.29 363.60,814.42 364.10,814.83 364.60,815.14 365.10,815.15 365.60,814.77 366.10,813.99 366.60,815.51 367.10,815.12 367.60,814.99 368.10,814.87 368.60,815.13 369.10,814.84 369.60,814.58 370.10,814.73 370.60,814.81 371.10,814.82 371.60,814.60 372.10,815.47 372.60,814.66 373.10,815.60 373.60,814.91 374.10,815.59 374.60,816.11 375.10,815.64 375.60,815.28 376.10,815.69 376.60,815.80 377.10,815.01 377.60,815.58 378.10,815.99 378.60,815.76 379.10,816.07 379.60,816.42 380.10,816.50 380.60,816.62 381.10,816.54 381.60,816.21 382.10,816.39 382.60,816.34 383.10,816.38 383.60,816.50 384.10,815.86 384.60,816.55 385.10,816.73 385.60,816.34 386.10,816.80 386.60,817.08 387.10,816.82 387.60,817.86 388.10,815.79 388.60,816.91 389.10,816.22 389.60,817.52 390.10,818.31 390.60,816.03 391.10,817.25 391.60,817.46 392.10,817.13 392.60,817.55 393.10,816.33 393.60,817.77 394.10,817.59 394.60,817.47 395.10,817.23 395.60,817.82 396.10,817.35 396.60,817.71 397.10,817.42 397.60,816.67 398.10,817.70 398.60,817.83 399.10,818.10 399.60,817.39 400.10,817.79 400.60,818.10 401.10,817.92 401.60,818.43 402.10,818.79 402.60,817.51 403.10,817.08 403.60,818.35 404.10,818.67 404.60,818.42 405.10,818.40 405.60,817.78 406.10,817.76 406.60,818.50 407.10,817.71 407.60,817.33 408.10,817.72 408.60,819.31 409.10,819.08 409.60,817.93 410.10,817.93 410.60,818.39 411.10,817.97 411.60,818.94 412.10,818.36 412.60,817.95 413.10,819.07 413.60,818.26 414.10,818.66 414.60,818.60 415.10,818.50 415.60,818.83 416.10,818.42 416.60,817.94 417.10,817.82 417.60,818.28 418.10,818.56 418.60,818.93 419.10,819.01 419.60,819.27 420.10,819.12 420.60,818.75 421.10,818.83 421.60,818.24 422.10,819.16 422.60,819.49" fill="none" stroke="#f00" stroke-width="1.9" stroke-linejoin="miter" />
<line x1="350.35" y1="843.00" x2="350.35" y2="852.40" stroke="#f00" stroke-width="1.4" />
<circle cx="352.80" cy="798.90" r="1.2" fill="#000"/>
<circle cx="357.35" cy="798.90" r="1.2" fill="#000"/>
<circle cx="361.90" cy="798.90" r="1.2" fill="#000"/>
<circle cx="366.45" cy="798.90" r="1.2" fill="#000"/>
<circle cx="371.00" cy="798.90" r="1.2" fill="#000"/>
<circle cx="375.55" cy="798.90" r="1.2" fill="#000"/>
<circle cx="380.10" cy="798.90" r="1.2" fill="#000"/>
<circle cx="384.65" cy="798.90" r="1.2" fill="#000"/>
<circle cx="389.20" cy="798.90" r="1.2" fill="#000"/>
<circle cx="393.75" cy="798.90" r="1.2" fill="#000"/>
<circle cx="398.30" cy="798.90" r="1.2" fill="#000"/>
<circle cx="402.85" cy="798.90" r="1.2" fill="#000"/>
<circle cx="407.40" cy="798.90" r="1.2" fill="#000"/>
<circle cx="411.95" cy="798.90" r="1.2" fill="#000"/>
<circle cx="416.50" cy="798.90" r="1.2" fill="#000"/>
<line x1="358.90" y1="819.30" x2="358.90" y2="838.40" stroke="#000" stroke-width="1.6" />
<path d="M356.70,824.30 L358.90,817.30 L361.10,824.30 Z M356.70,833.40 L358.90,840.40 L361.10,833.40 Z" fill="#000"/>
<line x1="416.90" y1="800.40" x2="416.90" y2="838.40" stroke="#000" stroke-width="1.6" />
<path d="M414.70,805.40 L416.90,798.40 L419.10,805.40 Z M414.70,833.40 L416.90,840.40 L419.10,833.40 Z" fill="#000"/>
<polyline points="477.00,739.60 485.80,739.60 485.80,715.20 549.80,715.20 549.80,739.60 622.80,739.60" fill="none" stroke="#000" stroke-width="1.7" stroke-linejoin="miter" />
<text x="0" y="0" transform="translate(498.20,710.60) scale(1.03,1)" font-size="16" text-anchor="start" font-weight="normal" fill="#000" >1 sec</text>
<text x="0" y="0" transform="translate(551.90,720.30) scale(1.02,1)" font-size="16" text-anchor="start" font-weight="normal" fill="#000" >20 mV</text>
<text x="0" y="0" transform="translate(591.20,734.60) scale(1.02,1)" font-size="16" text-anchor="start" font-weight="normal" fill="#000" >-40 mV</text>
<text x="0" y="0" transform="translate(435.40,759.70) scale(1.07,1)" font-size="17.5" text-anchor="start" font-weight="normal" fill="#000" >(pA)</text>
<line x1="477.00" y1="763.50" x2="477.00" y2="905.50" stroke="#000" stroke-width="2.2" />
<line x1="470.70" y1="774.90" x2="477.00" y2="774.90" stroke="#000" stroke-width="2" />
<text x="0" y="0" transform="translate(466.70,779.80) scale(1.0,1)" font-size="17.5" text-anchor="end" font-weight="normal" fill="#000" >600</text>
<line x1="470.70" y1="818.20" x2="477.00" y2="818.20" stroke="#000" stroke-width="2" />
<text x="0" y="0" transform="translate(466.70,823.10) scale(1.0,1)" font-size="17.5" text-anchor="end" font-weight="normal" fill="#000" >400</text>
<line x1="470.70" y1="861.50" x2="477.00" y2="861.50" stroke="#000" stroke-width="2" />
<text x="0" y="0" transform="translate(466.70,866.40) scale(1.0,1)" font-size="17.5" text-anchor="end" font-weight="normal" fill="#000" >200</text>
<line x1="470.70" y1="904.80" x2="477.00" y2="904.80" stroke="#000" stroke-width="2" />
<text x="0" y="0" transform="translate(466.70,909.70) scale(1.0,1)" font-size="17.5" text-anchor="end" font-weight="normal" fill="#000" >0</text>
<text x="0" y="0" transform="translate(502.80,773.80) scale(1.1,1)" font-size="20" text-anchor="start" font-weight="normal" fill="#000" >10 <tspan font-family="Liberation Serif" font-size="19">&#956;</tspan><tspan dx="1.2">M CBD</tspan></text>
<line x1="547.70" y1="888.40" x2="581.80" y2="888.40" stroke="#000" stroke-width="2" />
<text x="0" y="0" transform="translate(539.10,910.80) scale(1.13,1)" font-size="16" text-anchor="start" font-weight="normal" fill="#000" >500 ms</text>
<line x1="487.60" y1="823.80" x2="497.60" y2="823.80" stroke="#000" stroke-width="2.4" />
<line x1="508.30" y1="823.80" x2="518.30" y2="823.80" stroke="#000" stroke-width="2.4" />
<line x1="529.00" y1="823.80" x2="539.00" y2="823.80" stroke="#000" stroke-width="2.4" />
<line x1="549.70" y1="823.80" x2="559.70" y2="823.80" stroke="#000" stroke-width="2.4" />
<line x1="570.40" y1="823.80" x2="580.40" y2="823.80" stroke="#000" stroke-width="2.4" />
<line x1="591.10" y1="823.80" x2="601.10" y2="823.80" stroke="#000" stroke-width="2.4" />
<line x1="611.80" y1="823.80" x2="621.80" y2="823.80" stroke="#000" stroke-width="2.4" />
<line x1="477.00" y1="822.60" x2="486.00" y2="822.60" stroke="#000" stroke-width="1.6" />
<polyline points="486.60,822.00 486.60,803.40 487.00,810.25 487.50,818.03 488.00,823.96 488.50,827.27 489.00,829.37 489.50,832.45 490.00,834.56 490.50,835.85 491.00,838.03 491.50,838.42 492.00,840.07 492.50,841.18 493.00,842.02 493.50,844.27 494.00,845.22 494.50,845.01 495.00,846.17 495.50,847.37 496.00,847.98 496.50,848.89 497.00,847.82 497.50,848.61 498.00,849.67 498.50,850.68 499.00,850.29 499.50,850.12 500.00,850.84 500.50,850.95 501.00,850.96 501.50,852.50 502.00,851.36 502.50,851.87 503.00,853.28 503.50,852.82 504.00,852.44 504.50,852.00 505.00,852.74 505.50,853.59 506.00,853.12 506.50,853.63 507.00,853.06 507.50,853.43 508.00,853.13 508.50,853.58 509.00,854.15 509.50,852.55 510.00,853.42 510.50,853.64 511.00,853.19 511.50,853.39 512.00,854.09 512.50,854.87 513.00,854.08 513.50,853.94 514.00,852.86 514.50,854.99 515.00,853.92 515.50,853.90 516.00,853.29 516.50,853.97 517.00,853.39 517.50,854.13 518.00,854.41 518.50,854.19 519.00,854.38 519.50,853.75 520.00,855.16 520.50,853.90 521.00,853.18 521.50,854.15 522.00,853.79 522.50,853.63 523.00,854.01 523.50,854.39 524.00,853.49 524.50,854.10 525.00,855.03 525.50,854.57 526.00,854.06 526.50,854.21 527.00,854.05 527.50,854.08 528.00,854.54 528.50,854.03 529.00,852.63 529.50,854.05 530.00,853.51 530.50,854.42 531.00,853.65 531.50,854.10 532.00,855.30 532.50,853.35 533.00,853.29 533.50,853.11 534.00,852.51 534.50,852.80 535.00,854.14 535.50,853.52 536.00,852.83 536.50,853.14 537.00,854.48 537.50,853.72 538.00,854.05 538.50,854.55 539.00,855.24 539.50,855.67 540.00,855.21 540.50,854.75 541.00,854.86 541.50,855.91 542.00,855.77 542.50,854.80 543.00,855.34 543.50,855.32 544.00,855.26 544.50,855.01 545.00,854.59 545.50,855.15 546.00,854.62 546.50,856.36 547.00,856.03 547.50,855.06 548.00,856.71 548.50,856.46 549.00,854.82 549.90,856.00 550.00,790.00 550.60,783.50 551.60,783.60 552.10,783.14 552.60,784.04 553.10,782.22 553.60,783.42 554.10,783.51 554.60,783.53 555.10,783.66 555.60,784.34 556.10,782.97 556.60,783.27 557.10,783.33 557.60,783.98 558.10,784.11 558.60,784.88 559.10,785.02 559.60,785.08 560.10,784.86 560.60,785.20 561.10,786.24 561.60,786.32 562.10,786.13 562.60,786.07 563.10,787.40 563.60,786.31 564.10,787.26 564.60,787.76 565.10,787.11 565.60,787.97 566.10,787.00 566.60,788.48 567.10,788.19 567.60,787.32 568.10,788.88 568.60,788.14 569.10,789.65 569.60,788.67 570.10,789.18 570.60,789.65 571.10,789.48 571.60,790.02 572.10,789.68 572.60,790.57 573.10,790.32 573.60,790.59 574.10,788.97 574.60,791.47 575.10,790.94 575.60,790.00 576.10,791.28 576.60,791.66 577.10,792.17 577.60,791.03 578.10,792.76 578.60,791.89 579.10,793.57 579.60,792.20 580.10,792.84 580.60,792.37 581.10,792.07 581.60,793.55 582.10,793.59 582.60,794.12 583.10,793.86 583.60,793.15 584.10,792.65 584.60,793.41 585.10,793.54 585.60,793.61 586.10,794.59 586.60,794.59 587.10,794.38 587.60,794.79 588.10,794.75 588.60,795.11 589.10,795.58 589.60,795.85 590.10,795.01 590.60,794.67 591.10,796.58 591.60,795.94 592.10,796.68 592.60,795.18 593.10,796.11 593.60,796.48 594.10,795.74 594.60,796.45 595.10,797.34 595.60,797.70 596.10,798.15 596.60,796.83 597.10,796.65 597.60,797.95 598.10,798.36 598.60,798.06 599.10,797.32 599.60,798.73 600.10,798.89 600.60,798.90 601.10,798.44 601.60,799.07 602.10,799.51 602.60,798.86 603.10,798.24 603.60,799.70 604.10,799.95 604.60,799.83 605.10,800.51 605.60,799.78 606.10,800.23 606.60,800.26 607.10,800.94 607.60,801.71 608.10,800.76 608.60,802.27 609.10,802.06 609.60,801.72 610.10,801.70 610.60,802.51 611.10,801.44 611.60,801.59 612.10,801.12 612.60,802.14 613.10,802.77 613.60,802.38 614.10,802.42 614.60,802.15 615.10,802.47 615.60,801.62 616.10,803.20 616.60,802.43 617.10,802.12 617.60,802.43 618.10,802.49 618.60,803.60 619.10,803.82 619.60,802.48 620.10,803.95 620.60,804.03 621.10,803.25 621.60,802.81" fill="none" stroke="#000" stroke-width="1.9" stroke-linejoin="miter" />
<polyline points="477.00,820.70 486.00,820.70 486.80,821.55 487.30,840.85 487.80,847.51 488.30,853.17 488.80,854.70 489.30,857.71 489.80,858.30 490.30,861.41 490.80,860.82 491.30,861.55 491.80,861.87 492.30,862.49 492.80,864.01 493.30,864.17 493.80,864.44 494.30,864.70 494.80,864.00 495.30,864.93 495.80,865.16 496.30,865.15 496.80,866.29 497.30,865.78 497.80,866.05 498.30,866.09 498.80,865.73 499.30,867.57 499.80,868.25 500.30,867.80 500.80,867.14 501.30,866.13 501.80,867.88 502.30,868.54 502.80,868.01 503.30,868.42 503.80,868.77 504.30,868.59 504.80,867.68 505.30,868.60 505.80,868.46 506.30,867.10 506.80,867.80 507.30,867.22 507.80,868.04 508.30,868.47 508.80,867.51 509.30,866.95 509.80,868.99 510.30,868.46 510.80,869.14 511.30,867.49 511.80,868.95 512.30,869.59 512.80,869.57 513.30,868.27 513.80,868.55 514.30,868.29 514.80,868.97 515.30,868.98 515.80,868.40 516.30,867.53 516.80,868.78 517.30,868.04 517.80,868.69 518.30,868.46 518.80,869.26 519.30,868.96 519.80,868.00 520.30,868.47 520.80,869.31 521.30,867.92 521.80,868.49 522.30,868.93 522.80,868.96 523.30,868.51 523.80,867.40 524.30,867.42 524.80,868.32 525.30,868.39 525.80,869.68 526.30,867.62 526.80,868.81 527.30,868.58 527.80,867.10 528.30,867.61 528.80,868.19 529.30,867.78 529.80,867.97 530.30,868.34 530.80,867.56 531.30,868.32 531.80,867.64 532.30,867.69 532.80,868.33 533.30,867.66 533.80,868.17 534.30,868.96 534.80,868.02 535.30,867.91 535.80,868.44 536.30,867.78 536.80,868.65 537.30,867.23 537.80,868.37 538.30,867.69 538.80,867.52 539.30,869.06 539.80,867.49 540.30,869.05 540.80,868.39 541.30,868.87 541.80,867.41 542.30,868.72 542.80,868.87 543.30,867.93 543.80,867.92 544.30,869.47 544.80,868.11 545.30,867.75 545.80,867.62 546.30,868.27 546.80,868.20 547.30,868.11 547.80,869.03 548.30,867.80 548.80,868.28 549.30,868.88 549.70,868.00 549.80,815.00 550.60,812.00 551.00,810.56 551.50,810.74 552.00,810.18 552.50,807.22 553.00,806.52 553.50,806.48 554.00,805.91 554.50,807.20 555.00,805.73 555.50,807.06 556.00,807.55 556.50,805.62 557.00,806.31 557.50,805.27 558.00,806.80 558.50,805.84 559.00,806.10 559.50,806.26 560.00,806.53 560.50,805.97 561.00,806.16 561.50,805.80 562.00,806.17 562.50,805.37 563.00,806.08 563.50,804.86 564.00,805.70 564.50,807.12 565.00,805.99 565.50,805.16 566.00,806.04 566.50,805.28 567.00,804.84 567.50,805.36 568.00,806.22 568.50,805.98 569.00,805.67 569.50,805.14 570.00,805.03 570.50,806.46 571.00,805.77 571.50,805.04 572.00,804.40 572.50,804.89 573.00,807.25 573.50,805.13 574.00,805.83 574.50,806.05 575.00,805.89 575.50,805.87 576.00,805.26 576.50,805.51 577.00,807.21 577.50,805.79 578.00,806.81 578.50,805.34 579.00,806.24 579.50,806.62 580.00,807.13 580.50,805.89 581.00,806.98 581.50,806.90 582.00,806.28 582.50,807.06 583.00,806.29 583.50,806.41 584.00,806.93 584.50,805.36 585.00,806.97 585.50,806.49 586.00,806.26 586.50,806.93 587.00,807.69 587.50,807.04 588.00,808.09 588.50,806.69 589.00,806.65 589.50,808.41 590.00,807.77 590.50,808.15 591.00,807.13 591.50,808.16 592.00,807.88 592.50,808.17 593.00,807.84 593.50,808.60 594.00,807.54 594.50,807.40 595.00,807.14 595.50,808.77 596.00,807.68 596.50,807.55 597.00,807.66 597.50,808.00 598.00,807.55 598.50,808.16 599.00,807.98 599.50,808.05 600.00,807.82 600.50,808.44 601.00,808.17 601.50,808.54 602.00,808.64 602.50,808.72 603.00,807.22 603.50,808.24 604.00,808.10 604.50,809.07 605.00,807.68 605.50,808.22 606.00,808.50 606.50,808.49 607.00,809.31 607.50,808.48 608.00,809.34 608.50,807.91 609.00,807.72 609.50,809.56 610.00,809.12 610.50,809.17 611.00,808.97 611.50,809.22 612.00,808.24 612.50,809.57 613.00,808.71 613.50,809.66 614.00,809.15 614.50,807.95 615.00,808.39 615.50,809.87 616.00,809.15 616.50,809.03 617.00,809.44 617.50,809.07 618.00,809.04 618.50,809.46 619.00,809.51 619.50,810.37 620.00,809.52 620.50,810.66 621.00,810.64 621.50,810.62 622.00,810.24" fill="none" stroke="#f00" stroke-width="1.9" stroke-linejoin="miter" />
<line x1="486.40" y1="763.70" x2="486.40" y2="905.50" stroke="#f00" stroke-width="1.7" />
<circle cx="557.70" cy="783.60" r="1.2" fill="#000"/>
<circle cx="562.25" cy="783.60" r="1.2" fill="#000"/>
<circle cx="566.80" cy="783.60" r="1.2" fill="#000"/>
<circle cx="571.35" cy="783.60" r="1.2" fill="#000"/>
<circle cx="575.90" cy="783.60" r="1.2" fill="#000"/>
<circle cx="580.45" cy="783.60" r="1.2" fill="#000"/>
<circle cx="585.00" cy="783.60" r="1.2" fill="#000"/>
<circle cx="589.55" cy="783.60" r="1.2" fill="#000"/>
<circle cx="594.10" cy="783.60" r="1.2" fill="#000"/>
<circle cx="598.65" cy="783.60" r="1.2" fill="#000"/>
<circle cx="603.20" cy="783.60" r="1.2" fill="#000"/>
<circle cx="607.75" cy="783.60" r="1.2" fill="#000"/>
<line x1="556.00" y1="810.90" x2="556.00" y2="820.80" stroke="#000" stroke-width="1.6" />
<path d="M553.80,815.90 L556.00,808.90 L558.20,815.90 Z M553.80,815.80 L556.00,822.80 L558.20,815.80 Z" fill="#000"/>
<line x1="609.00" y1="787.60" x2="609.00" y2="820.10" stroke="#000" stroke-width="1.6" />
<path d="M606.80,792.60 L609.00,785.60 L611.20,792.60 Z M606.80,815.10 L609.00,822.10 L611.20,815.10 Z" fill="#000"/>
</svg></body></html>
